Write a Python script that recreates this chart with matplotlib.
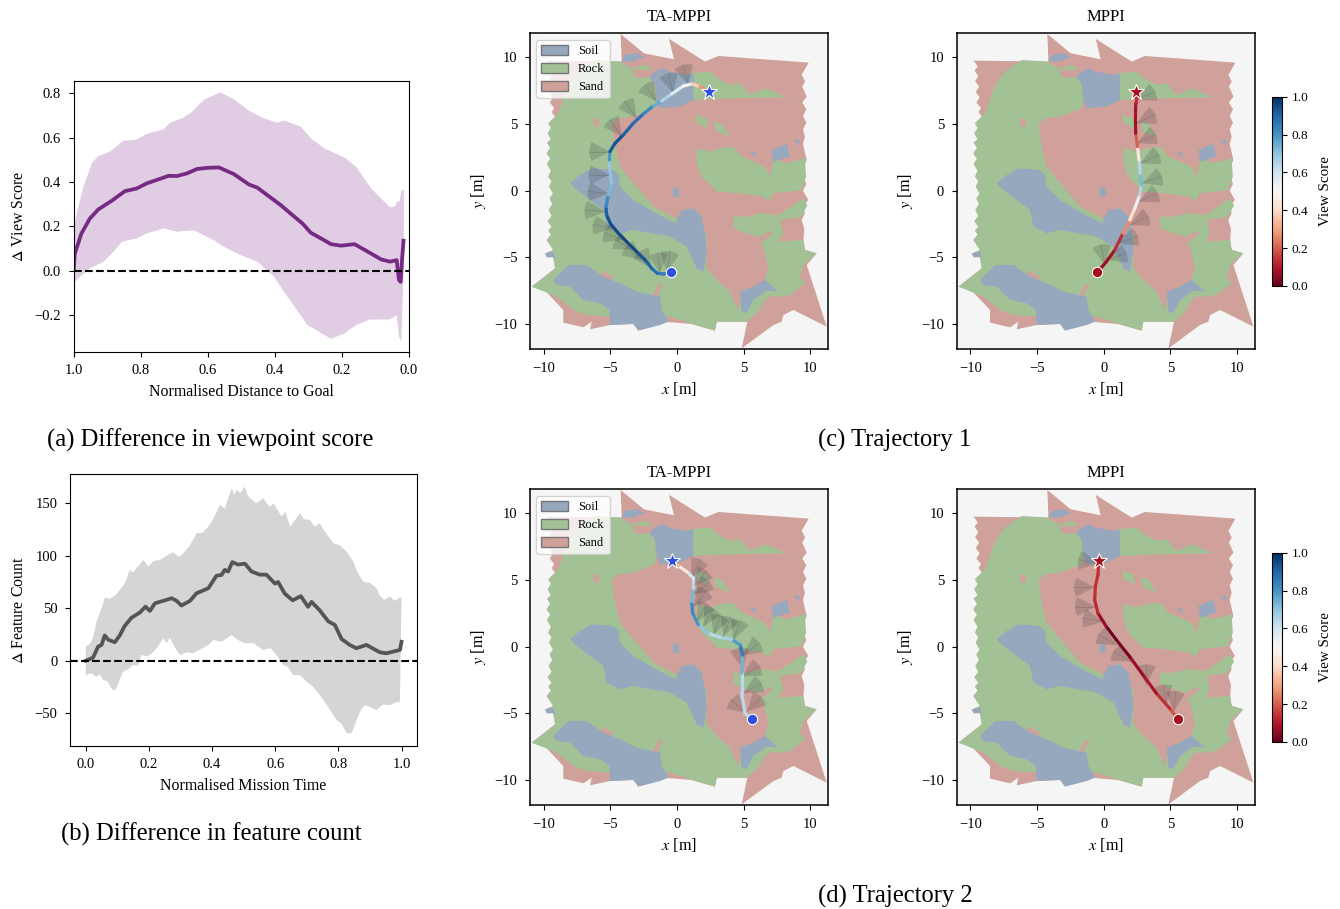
import numpy as np
import matplotlib
matplotlib.use("Agg")
import matplotlib.pyplot as plt
from matplotlib.collections import LineCollection
from matplotlib.patches import Polygon, Wedge, Patch
from matplotlib.cm import ScalarMappable
from matplotlib.colors import Normalize

plt.rcParams['font.family'] = ['Liberation Serif', 'DejaVu Serif']
plt.rcParams['mathtext.fontset'] = 'stix'

W, H = 1340, 909

# ---------- panel (a) ----------
a_mean_x = [1.0,.997,.977,.952,.927,.887,.847,.812,.782,.747,.717,.692,.662,.632,.602,.567,.522,.477,.452,.422,.382,.347,.317,.292,.262,.232,.202,.162,.122,.082,.056,.036,.029,.024,.02,.015]
a_mean_y = [0.0,.075,.168,.235,.276,.315,.359,.371,.394,.412,.428,.427,.439,.459,.464,.466,.436,.389,.375,.341,.296,.251,.213,.171,.146,.12,.113,.12,.086,.051,.041,.048,-.042,-.05,.048,.144]
a_up_x = [1.0,.991,.971,.946,.927,.892,.852,.812,.782,.732,.712,.677,.652,.612,.562,.522,.477,.432,.392,.372,.322,.292,.252,.192,.157,.112,.056,.041,.036,.028,.021,.014]
a_up_y = [.183,.259,.379,.484,.517,.537,.586,.592,.617,.638,.668,.687,.71,.77,.805,.773,.722,.687,.668,.677,.65,.597,.552,.511,.469,.371,.286,.289,.311,.311,.364,.364]
a_lo_x = [1.0,.981,.951,.911,.881,.856,.812,.782,.732,.692,.642,.582,.552,.502,.452,.402,.362,.302,.232,.192,.157,.117,.056,.036,.028,.022,.015,.014]
a_lo_y = [-.057,-.027,.011,.041,.086,.131,.146,.168,.191,.176,.183,.138,.108,.071,.041,-.027,-.117,-.245,-.307,-.283,-.245,-.22,-.22,-.2,-.305,-.313,.003,.364]
a_xticks = [1.0, 0.8, 0.6, 0.4, 0.2, 0.0]
a_yticks = [-0.2, 0.0, 0.2, 0.4, 0.6, 0.8]

# ---------- panel (b) ----------
b_mean_x = [0,.011,.023,.039,.05,.06,.071,.092,.108,.123,.145,.171,.189,.203,.219,.245,.272,.288,.303,.33,.351,.388,.414,.43,.44,.451,.464,.482,.504,.525,.551,.572,.599,.609,.63,.655,.681,.704,.715,.741,.768,.789,.81,.836,.857,.889,.931,.952,.995,1.0]
b_mean_y = [0,1.3,2.9,13.4,15,24,20,17.5,24.2,33,41,45.8,51.5,47.4,54.7,57,59.5,57,52.5,57,64.3,69,81,81.7,86.5,85,94,91.6,92.5,85,82,82,73.5,75,64,57.5,61.5,51.3,56,48,37.5,34,20.7,15,11.8,15,8,7,10.2,18]
b_up_x = [0,.009,.018,.028,.034,.044,.055,.06,.075,.092,.108,.125,.139,.15,.165,.182,.19,.198,.215,.235,.255,.277,.295,.309,.33,.351,.37,.388,.4,.425,.44,.462,.47,.478,.49,.504,.512,.52,.54,.562,.573,.583,.595,.604,.62,.632,.647,.66,.678,.69,.71,.725,.741,.76,.784,.805,.826,.835,.847,.86,.878,.9,.921,.931,.945,.963,.98,.995,1.0]
b_up_y = [13.4,15,18.1,28,37.2,45,54.7,60.1,59,62,67.4,74,86.5,84,90,96,93,89.7,95,96,100,103.3,99,102.4,110,121.5,122,127.8,133,148.5,145,164.4,158,162.8,160,166,158,154.9,150,154.9,150,146.9,150,145.3,137.4,142,127.8,133,140.5,135,134.2,128,131,122,111.9,110,104,100,94.4,85,75.4,74,69,62,58,61,57,60.4,59.5]
b_lo_x = [0,.015,.034,.045,.055,.07,.08,.092,.105,.118,.135,.15,.165,.176,.195,.213,.23,.245,.256,.266,.283,.298,.32,.34,.365,.388,.404,.43,.462,.48,.504,.53,.562,.585,.604,.625,.64,.657,.68,.699,.72,.741,.765,.794,.81,.826,.842,.858,.87,.884,.9,.921,.94,.963,.98,.995,1.0]
b_lo_y = [-14.3,-12,-15.3,-13,-18.4,-20,-26,-28.9,-20,-10.5,-8,-4.1,-5,5.4,4,7.9,14,21.3,17,21.9,12,5.4,8,7,11,14.9,19.7,18,24.5,20,16.5,17,10.2,12,5.4,-4.1,-6,-13.7,-14,-20,-25,-32.8,-43,-56.6,-60,-69.3,-69.3,-56.6,-48,-42.3,-44,-47.1,-42,-42.3,-40,-39.1,59.5]
b_xticks = [0.0, 0.2, 0.4, 0.6, 0.8, 1.0]
b_yticks = [-50, 0, 50, 100, 150]

# ---------- terrain map regions (x, y in metres) ----------
left_edge = [(-9.28,-5),(-9.83,-4.7),(-9.28,-4.45),(-9.78,-3.7),(-9.45,-3.3),(-9.65,-3.0),(-9.4,-2.7),(-9.7,-2.3),(-9.4,-1.9),(-9.62,-1.45),(-9.35,-1.0),(-9.55,-.6),(-9.3,-.2),(-9.6,.3),(-9.4,.7),(-9.65,1.05),(-9.45,1.5),(-9.75,2.0),(-9.5,2.4),(-9.78,2.8),(-9.5,3.2),(-9.75,3.6),(-9.45,3.85),(-9.7,4.3),(-9.45,4.7),(-9.65,5.05),(-9.15,5.55)]
upper_left_edge = [(-9.4,5.9),(-9.2,6.2),(-9.55,6.6),(-9.3,7.0),(-9.6,7.4),(-9.35,7.8),(-9.65,8.2),(-9.4,8.6),(-9.7,9.0),(-9.45,9.3),(-9.75,9.75)]
outline_rest = [(-4.15,9.68),(-4.23,11.75),(-2.48,10.3),(-.23,9.85),(-.6,11.38),(2.1,9.68),(3.1,10.1),(9.88,9.6),(9.35,8.68),(9.6,8.2),(9.4,7.8),(9.73,7.05),(9.4,6.6),(9.7,6.1),(9.45,5.6),(9.7,5.1),(9.45,4.6),(9.6,4.05),(9.45,3.5),(9.73,2.3),(9.45,1.7),(9.48,1.05),(9.7,.5),(9.45,0.0),(9.85,-.7),(9.4,-1.2),(9.6,-1.7),(9.35,-2.2),(9.55,-2.9),(9.48,-3.7),(9.6,-4.45),(10.48,-4.7),(9.73,-5.58),(11.23,-10.2),(8.73,-8.95),(7.98,-9.33),(7.85,-9.83),(7.23,-10.08),(4.85,-11.83),(5.28,-9.83),(2.98,-9.83),(2.85,-10.5),(1.1,-10),(-1.03,-9.83),(-2.53,-9.9),(-2.9,-10.5),(-3.28,-10),(-5.03,-10.08),(-6.53,-10.4),(-6.4,-9.83),(-7.03,-10.25),(-8.53,-9.9),(-8.53,-8.95),(-9.9,-7.5),(-10.9,-7.2),(-9.15,-5.83)]
sand_outline = outline_rest + left_edge + upper_left_edge

rock_main = [(-6.17,9.8),(-4.28,9.68),(-3.4,9.18),(-3.15,8.5),(-1.78,8.5),(-1.53,6.8),(-1.65,6.18),(-3.28,5.55),(-4.4,5.43),(-4.9,5.0),(-4.65,3.3),(-4.28,1.8),(-1.78,-1.2),(2.23,-3.2),(2.23,-5.83),(2.98,-6.7),(3.85,-7.45),(4.6,-8.95),(4.85,-7.7),(6.23,-7.08),(6.6,-6.7),(6.85,-7.95),(5.98,-9.2),(5.28,-9.83),(2.98,-9.83),(2.85,-10.5),(1.1,-10),(-.53,-9.45),(-5.03,-9.45),(-6.78,-9.33),(-7.78,-8.95),(-9.03,-7.95),(-10.9,-7.2),(-9.15,-5.83)] + left_edge + [(-8.8,6.05),(-8.3,7.55),(-7.55,8.8)]
rock_lower_right = [(6.48,-4.2),(7.6,-3.83),(9.48,-3.7),(9.6,-4.45),(10.48,-4.7),(9.48,-5.58),(9.23,-6.45),(9.6,-6.95),(8.48,-7.83),(7.48,-7.95),(6.85,-7.95),(6.6,-6.7),(6.85,-5.7)]
rock_island_1 = [(1.48,3.18),(2.48,2.93),(3.23,3.18),(4.23,3.3),(4.85,2.55),(5.48,2.3),(6.6,1.8),(6.98,1.05),(7.23,2.43),(8.23,2.05),(9.6,2.43),(9.68,1.05),(9.35,.05),(7.23,-.2),(6.85,-.83),(6.48,-.45),(4.73,-.2),(2.98,-.08),(1.85,1.05),(1.48,2.05)]
rock_island_2 = [(4.23,-1.95),(5.23,-1.95),(6.23,-1.7),(7.6,-1.83),(9.48,-.58),(9.78,-1.08),(9.35,-1.95),(7.73,-2.2),(7.98,-3.2),(7.6,-3.83),(6.48,-4.2),(6.23,-3.95),(7.23,-3.2),(6.85,-3.08),(6.23,-3.45),(5.23,-3.2),(4.23,-2.83)]
rock_top = [(.85,8.8),(2.48,8.93),(3.23,8.3),(4.1,7.93),(4.73,8.05),(5.48,7.18),(6.6,7.68),(8.23,7.0),(4.23,6.93),(1.23,6.8)]
rock_small_1 = [(1.35,5.68),(2.23,5.43),(2.35,4.68),(1.48,5.05)]
rock_small_2 = [(2.73,5.18),(3.35,5.05),(3.93,4.05),(2.98,4.43)]
rock_small_3 = [(-3.4,9.18),(-2.4,9.43),(-1.78,9.05),(-3.28,9.05)]
rock_regions = [rock_main, rock_lower_right, rock_island_1, rock_island_2, rock_top, rock_small_1, rock_small_2, rock_small_3]

sand_patch_1 = [(-6.28,5.43),(-5.83,5.35),(-5.83,4.8),(-6.23,4.8)]
sand_patch_2 = [(-5.78,-5.95),(-4.78,-6.45),(-5.03,-6.95),(-5.65,-6.45)]
sand_patch_3 = [(-1.4,-7.08),(-1.03,-6.95),(-1.53,-7.95),(-1.83,-7.83)]
sand_patches = [sand_patch_1, sand_patch_2, sand_patch_3]

soil_top = [(-1.65,8.93),(-1.03,9.18),(-.65,8.93),(.73,8.68),(1.23,8.8),(1.23,6.8),(.23,6.3),(-1.28,6.18),(-1.53,6.8),(-1.65,8.05),(-2.08,8.55)]
soil_ridge = [(-4.15,9.68),(-3.9,10.18),(-3.03,10.3),(-2.4,10.05),(-3.4,9.68)]
soil_centre = [(-8.03,.55),(-7.28,1.18),(-6.4,1.68),(-4.78,1.55),(-4.4,1.18),(-4.28,.3),(-3.28,-.7),(-1.78,-1.58),(-.15,-2.45),(.35,-1.45),(1.23,-1.33),(1.85,-1.95),(2.1,-3.2),(2.23,-4.45),(1.98,-6.08),(1.48,-5.83),(.73,-4.2),(-.53,-3.45),(-3.28,-2.95),(-4.28,-3.2),(-5.28,-2.7),(-5.53,-1.45),(-6.53,-.7),(-7.53,.05)]
soil_south = [(-9.28,-6.7),(-8.15,-5.58),(-6.78,-5.58),(-5.53,-6.45),(-4.28,-6.95),(-3.03,-7.58),(-1.28,-7.95),(-1.15,-8.95),(-.65,-9.83),(-1.28,-10.08),(-2.9,-10.5),(-3.28,-10),(-5.03,-10.08),(-5.08,-8.95),(-5.78,-8.45),(-7.03,-8.2),(-8.03,-7.2),(-9.03,-7.08)]
soil_se = [(4.73,-7.58),(5.73,-7.2),(6.6,-6.7),(7.6,-7.58),(6.73,-7.5),(5.73,-8.2),(5.23,-9.2),(4.85,-9.08)]
soil_e = [(7.1,3.05),(8.23,3.5),(8.43,2.55),(7.23,2.18)]
soil_e2 = [(8.73,3.8),(9.23,3.8),(9.1,3.43)]
soil_e3 = [(5.48,2.8),(5.85,2.93),(5.93,2.43)]
soil_w = [(-9.9,-4.7),(-9.28,-4.58),(-9.15,-5),(-9.78,-5)]
soil_mid = [(-.28,.3),(.1,.18),(.18,-.45),(-.33,-.45)]
soil_regions = [soil_top, soil_ridge, soil_centre, soil_south, soil_se, soil_e, soil_e2, soil_e3, soil_w, soil_mid]

categories = ['Soil', 'Rock', 'Sand']
map_ticks = [-10, -5, 0, 5, 10]
cbar_ticks = [0.0, 0.2, 0.4, 0.6, 0.8, 1.0]

# ---------- trajectories: x, y, view score, viewpoints (x, y, heading deg) ----------
t1_ta_x = [-.45,-1.03,-1.48,-1.9,-2.4,-3.03,-3.78,-4.4,-4.98,-5.28,-5.33,-5.15,-4.9,-5.03,-5.08,-5.03,-4.65,-4.03,-3.28,-2.53,-1.78,-1.15,-.4,.48,1.1,1.73,2.4]
t1_ta_y = [-6.13,-6.25,-6.2,-5.83,-5.2,-4.58,-3.83,-3.2,-2.5,-1.83,-1.2,-.33,.55,1.55,2.3,2.93,3.55,4.18,5.05,5.75,6.35,6.73,7.25,7.85,8.0,7.8,7.43]
t1_ta_s = [.85,.85,.85,.9,.92,.95,.95,.95,.95,.92,.9,.75,.7,.7,.68,.9,.95,.92,.9,.85,.8,.7,.62,.52,.45,.3,.25]
t1_ta_v = [(-.78,-6.08,80),(-1.28,-6.2,95),(-1.9,-5.83,125),(-2.65,-5.2,140),(-3.28,-4.45,150),(-4.03,-3.7,160),(-4.78,-2.83,170),(-5.4,-1.58,175),(-5.15,-.2,175),(-5.08,1.18,180),(-5.03,2.93,180),(-4.15,4.05,125),(-3.03,5.43,125),(-1.53,6.68,125),(-.28,7.3,105),(.85,7.93,105)]

t1_m_x = [-.48,.2,.83,1.45,1.95,2.33,2.7,2.83,2.75,2.65,2.53,2.4,2.38,2.4,2.4]
t1_m_y = [-6.13,-5.33,-4.45,-3.2,-2.2,-1.33,-.33,.43,1.3,2.3,3.3,4.3,5.3,6.55,7.43]
t1_m_s = [.05,.08,.08,.18,.35,.5,.58,.72,.72,.58,.3,.1,.05,.12,.15]
t1_m_v = [(2.45,6.8,25),(2.45,5.05,25),(2.5,3.55,25),(2.75,2.05,25),(2.9,.55,20),(2.65,-.83,25),(1.95,-2.58,25),(1.08,-3.95,20),(.25,-5.2,20),(.08,-5.58,100)]

t2_ta_x = [5.6,5.1,4.85,4.85,4.93,4.73,4.1,3.23,2.35,1.6,1.18,1.1,1.23,1.23,.73,.1,-.35]
t2_ta_y = [-5.45,-5.0,-3.5,-2.0,-.63,.13,.55,.7,1.0,1.63,2.5,3.38,4.38,5.13,5.63,6.05,6.43]
t2_ta_s = [.65,.62,.65,.62,.85,.85,.72,.62,.65,.75,.85,.8,.65,.62,.55,.35,.3]
t2_ta_v = [(5.23,-5,140),(5.23,-4.88,45),(4.98,-3.5,30),(4.85,-2.25,30),(4.93,-1.63,100),(4.93,-.63,35),(4.23,.5,70),(3.48,.75,70),(2.73,.88,70),(1.98,1.5,60),(1.48,1.88,60),(1.23,3,50),(1.23,3.88,40),(1.23,4.5,50),(1.1,5.13,65)]

t2_m_x = [5.58,4.95,3.95,2.95,1.95,.95,.2,-.43,-.68,-.63,-.43,-.38]
t2_m_y = [-5.45,-4.63,-3.5,-2.13,-.75,.5,1.5,2.5,3.5,4.5,5.38,6.43]
t2_m_s = [.2,.17,.1,.08,.05,.0,.02,.1,.15,.12,.15,.12]
t2_m_v = [(5.25,-4.88,85),(4.7,-4.38,100),(3.2,-2.88,90),(2.08,-1.13,150),(.95,.13,150),(-.05,1.88,170),(-.6,3,180),(-.68,4.45,180),(-.38,6.25,170)]

BLUE = '#2f4fe0'
RED = '#a50f1e'
SAND = '#d0a09a'
ROCK = '#a2c295'
SOIL = '#95a8bd'
TICK = 10.5
LABEL = 11.4

fig = plt.figure(figsize=(W / 100, H / 100), dpi=100)


def add_ax(l, t, r, b):
    return fig.add_axes([l / W, 1 - b / H, (r - l) / W, (b - t) / H])


# panel (a)
ax = add_ax(73.7, 80.7, 408.7, 351.7)
ax.fill(a_up_x + a_lo_x[::-1], a_up_y + a_lo_y[::-1], color='#e0cce3', lw=0)
ax.plot(a_mean_x, a_mean_y, color='#762a83', lw=2.7, solid_capstyle='butt')
ax.axhline(0, color='k', ls='--', lw=1.5)
ax.set_xlim(1.0, 0.0)
ax.set_ylim(-0.365, 0.857)
ax.set_xticks(a_xticks)
ax.set_yticks(a_yticks)
ax.tick_params(labelsize=TICK, pad=5.5)
ax.set_xlabel('Normalised Distance to Goal', fontsize=LABEL, labelpad=5)
ax.set_ylabel(r'$\Delta$ View Score', fontsize=LABEL, labelpad=5.6)

# panel (b)
ax = add_ax(70, 474.3, 417.3, 746)
ax.fill(b_up_x + b_lo_x[::-1], b_up_y + b_lo_y[::-1], color='#d5d5d5', lw=0)
ax.plot(b_mean_x, b_mean_y, color='#555555', lw=2.7)
ax.axhline(0, color='k', ls='--', lw=1.5)
ax.set_xlim(-0.05, 1.05)
ax.set_ylim(-81.4, 177.7)
ax.set_xticks(b_xticks)
ax.set_yticks(b_yticks)
ax.tick_params(labelsize=TICK, pad=5.5)
ax.set_xlabel('Normalised Mission Time', fontsize=LABEL, labelpad=5)
ax.set_ylabel(r'$\Delta$ Feature Count', fontsize=LABEL, labelpad=5.6)


def draw_map(ax, title, tx, ty, ts, views, colour, legend=False):
    ax.set_facecolor('#f5f5f5')
    for s in ax.spines.values():
        s.set_linewidth(1.1)
    ax.add_patch(Polygon(sand_outline, fc=SAND, ec='none'))
    for r in rock_regions:
        ax.add_patch(Polygon(r, fc=ROCK, ec='none'))
    for r in sand_patches:
        ax.add_patch(Polygon(r, fc=SAND, ec='none'))
    for r in soil_regions:
        ax.add_patch(Polygon(r, fc=SOIL, ec='none'))
    for vx, vy, h in views:
        ax.add_patch(Wedge((vx, vy), 1.55, h - 27, h + 27, fc='#404040', ec='none', alpha=0.22, zorder=3))
        ax.plot([vx, vx + 1.55 * np.cos(np.radians(h))], [vy, vy + 1.55 * np.sin(np.radians(h))],
                color='#404040', lw=0.5, alpha=0.25, zorder=3)
    pts = np.column_stack([tx, ty])
    segs = np.stack([pts[:-1], pts[1:]], axis=1)
    lc = LineCollection(segs, cmap='RdBu', norm=Normalize(0, 1), lw=2.3, capstyle='round', zorder=4)
    lc.set_array((np.array(ts[:-1]) + np.array(ts[1:])) / 2)
    ax.add_collection(lc)
    ax.plot(tx[0], ty[0], 'o', color=colour, ms=7.5, mec='white', mew=0.8, zorder=5)
    ax.plot(tx[-1], ty[-1], '*', color=colour, ms=12, mec='white', mew=0.8, zorder=5)
    ax.set_xlim(-11.03, 11.35)
    ax.set_ylim(-11.9, 11.8)
    ax.set_xticks(map_ticks)
    ax.set_yticks(map_ticks)
    ax.tick_params(labelsize=TICK, pad=5.5)
    ax.set_xlabel('$x$ [m]', fontsize=LABEL + .3, labelpad=4)
    ax.set_ylabel('$y$ [m]', fontsize=LABEL + .3, labelpad=4.5)
    ax.set_title(title, fontsize=12, pad=9)
    if legend:
        handles = [Patch(fc=c, ec='#777777', label=n) for n, c in zip(categories, [SOIL, ROCK, SAND])]
        ax.legend(handles=handles, loc='upper left', fontsize=9, framealpha=0.8,
                  borderaxespad=0.5, handlelength=2.1, handleheight=0.9,
                  labelspacing=0.45, handletextpad=0.85)


def draw_cbar(t, b):
    cax = add_ax(1271.7, t, 1281.7, b)
    cb = fig.colorbar(ScalarMappable(Normalize(0, 1), 'RdBu'), cax=cax)
    cb.set_ticks(cbar_ticks)
    cb.ax.tick_params(labelsize=9.6)
    cb.set_label('View Score', fontsize=10.8, labelpad=8)


draw_map(add_ax(530, 33.3, 828.3, 349.3), 'TA-MPPI', t1_ta_x, t1_ta_y, t1_ta_s, t1_ta_v, BLUE, True)
draw_map(add_ax(956.7, 33.3, 1255, 349.3), 'MPPI', t1_m_x, t1_m_y, t1_m_s, t1_m_v, RED)
draw_map(add_ax(530, 489.3, 828.3, 805.3), 'TA-MPPI', t2_ta_x, t2_ta_y, t2_ta_s, t2_ta_v, BLUE, True)
draw_map(add_ax(956.7, 489.3, 1255, 805.3), 'MPPI', t2_m_x, t2_m_y, t2_m_s, t2_m_v, RED)
draw_cbar(96.7, 286)
draw_cbar(552.7, 742)

captions = [(210, 440, '(a) Difference in viewpoint score'),
            (211, 834, '(b) Difference in feature count'),
            (895, 440, '(c) Trajectory 1'),
            (895, 896, '(d) Trajectory 2')]
for cx, cy, s in captions:
    fig.text(cx / W, 1 - cy / H, s, ha='center', va='center', fontsize=17.7)

fig.savefig('out.png', dpi=100)
